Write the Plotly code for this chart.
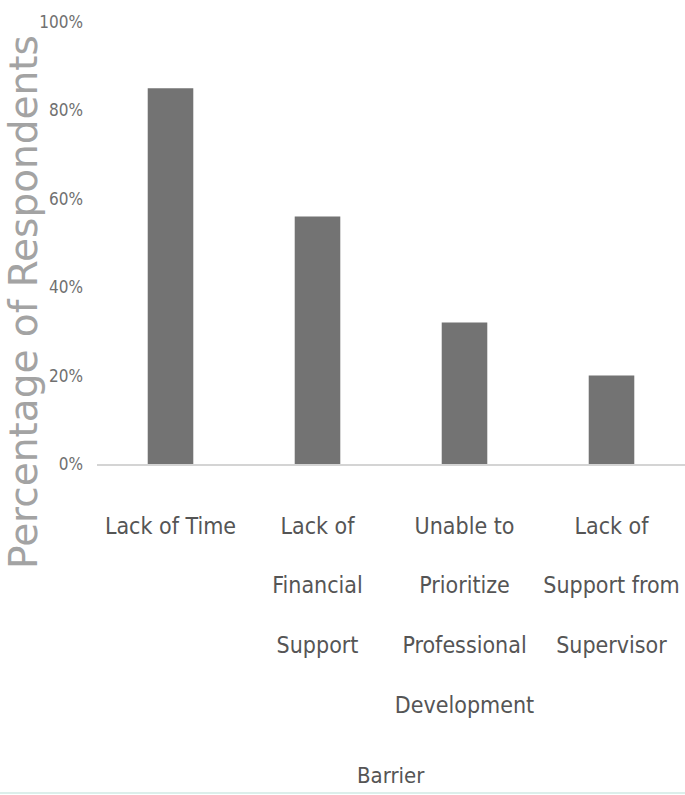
import plotly.graph_objects as go

# Survey results: share of respondents citing each barrier
barriers = [
    "Lack of Time",
    "Lack of<br><br>Financial<br><br>Support",
    "Unable to<br><br>Prioritize<br><br>Professional<br><br>Development",
    "Lack of<br><br>Support from<br><br>Supervisor",
]
share = [0.85, 0.56, 0.32, 0.20]

y_ticks = [0, 0.2, 0.4, 0.6, 0.8, 1.0]

W, H = 685, 795
ML, MR, MT, MB = 97, 0, 22, 331
plot_w = W - ML - MR
plot_h = H - MT - MB

label_font = "DejaVu Sans Condensed, Liberation Sans Narrow, sans-serif"

fig = go.Figure(
    go.Bar(
        x=barriers,
        y=share,
        marker=dict(color="#737373", line=dict(width=0)),
        hoverinfo="skip",
    )
)

fig.update_layout(
    width=W,
    height=H,
    margin=dict(l=ML, r=MR, t=MT, b=MB, autoexpand=False),
    paper_bgcolor="white",
    plot_bgcolor="white",
    bargap=0.69,
    showlegend=False,
    font=dict(family=label_font, color="#555555"),
)

fig.update_xaxes(
    type="category",
    range=[-0.5, 3.5],
    showgrid=False,
    showline=True,
    linecolor="#d4d4d4",
    linewidth=2,
    ticks="",
    tickfont=dict(size=23, family=label_font, color="#555555"),
    ticklabelstandoff=40,
    fixedrange=True,
)

fig.update_yaxes(
    range=[0, 1.0],
    tickvals=y_ticks,
    tickformat=".0%",
    showgrid=False,
    zeroline=False,
    showline=False,
    ticks="",
    tickfont=dict(size=17, family=label_font, color="#707070"),
    ticklabelstandoff=13,
    fixedrange=True,
)

# Axis titles
fig.add_annotation(
    text="Barrier",
    xref="paper", yref="paper",
    x=0.5, y=-(775 - (H - MB)) / plot_h,
    xanchor="center", yanchor="middle",
    showarrow=False,
    font=dict(size=22, family=label_font, color="#555555"),
)
fig.add_annotation(
    text="Percentage of Respondents",
    xref="paper", yref="paper",
    x=-(ML - 23) / plot_w, y=(H - MB - 302) / plot_h,
    xanchor="center", yanchor="middle",
    textangle=-90,
    showarrow=False,
    font=dict(size=39, family="DejaVu Sans, sans-serif", color="#a3a3a3"),
)

# Thin pale rule along the bottom edge of the page
fig.add_shape(
    type="line",
    xref="paper", yref="paper",
    x0=-ML / plot_w, x1=1,
    y0=(H - MB - 793) / plot_h, y1=(H - MB - 793) / plot_h,
    line=dict(color="#dcefeb", width=2),
    layer="below",
)

fig.write_html("out.html", config={"displayModeBar": False})
